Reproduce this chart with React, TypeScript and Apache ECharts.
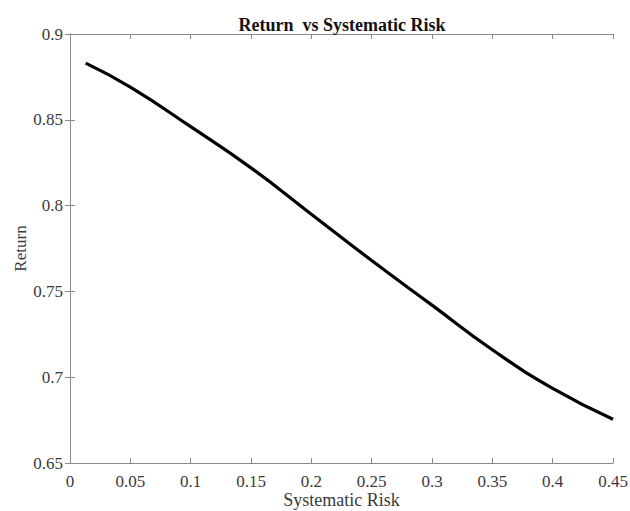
import React, { useEffect, useRef } from "react";
import * as echarts from "echarts";

const riskValues = [0.013, 0.05, 0.1, 0.15, 0.2, 0.25, 0.3, 0.35, 0.4, 0.45];
const returnValues = [0.883, 0.869, 0.846, 0.822, 0.795, 0.768, 0.742, 0.716, 0.6935, 0.6755];
const titleText = "Return  vs Systematic Risk";
const xName = "Systematic Risk";
const yName = "Return";

const FONT = "'Liberation Serif', 'Times New Roman', serif";
const AXIS_GRAY = "#8a8a8a";
const LABEL = "#3a3a3a";

export default function App() {
  const ref = useRef<HTMLDivElement>(null);
  useEffect(() => {
    if (!ref.current) return;
    const chart = echarts.init(ref.current, undefined, { renderer: "svg" });
    const data = riskValues.map((x, i) => [x, returnValues[i]]);
    const axisCommon = {
      axisLine: { show: true, lineStyle: { color: AXIS_GRAY, width: 1 } },
      axisTick: { show: true, inside: true, length: 5, lineStyle: { color: AXIS_GRAY } },
      splitLine: { show: false },
    };
    chart.setOption({
      animation: false,
      backgroundColor: "#ffffff",
      title: {
        text: titleText,
        left: 337,
        textAlign: "center",
        top: 11,
        textStyle: { fontFamily: FONT, fontWeight: "bold", fontSize: 18, color: "#111" },
      },
      grid: {
        left: 70,
        right: 17,
        top: 34,
        bottom: 48,
        containLabel: false,
        outerBoundsMode: "none",
      },
      xAxis: [
        {
          type: "value",
          min: 0,
          max: 0.45,
          interval: 0.05,
          position: "bottom",
          name: xName,
          nameLocation: "middle",
          nameGap: 28,
          nameMoveOverlap: false,
          nameTextStyle: { fontFamily: FONT, fontSize: 18, color: LABEL },
          axisLabel: { fontFamily: FONT, fontSize: 17, color: LABEL, margin: 10 },
          ...axisCommon,
        },
        {
          type: "value",
          min: 0,
          max: 0.45,
          interval: 0.05,
          position: "top",
          axisLabel: { show: false },
          ...axisCommon,
        },
      ],
      yAxis: [
        {
          type: "value",
          min: 0.65,
          max: 0.9,
          interval: 0.05,
          position: "left",
          name: yName,
          nameLocation: "middle",
          nameGap: 41,
          nameMoveOverlap: false,
          nameTextStyle: { fontFamily: FONT, fontSize: 17, color: LABEL },
          axisLabel: { fontFamily: FONT, fontSize: 17, color: LABEL, margin: 7 },
          ...axisCommon,
        },
        {
          type: "value",
          min: 0.65,
          max: 0.9,
          interval: 0.05,
          position: "right",
          axisLabel: { show: false },
          ...axisCommon,
        },
      ],
      series: [
        {
          type: "line",
          data,
          xAxisIndex: 0,
          yAxisIndex: 0,
          smooth: true,
          showSymbol: false,
          lineStyle: { color: "#000000", width: 3.2 },
        },
      ],
    });
    return () => chart.dispose();
  }, []);
  return (
    <div
      ref={ref}
      style={{ position: "fixed", left: 0, top: 0, width: 630, height: 511, background: "#fff" }}
    />
  );
}
